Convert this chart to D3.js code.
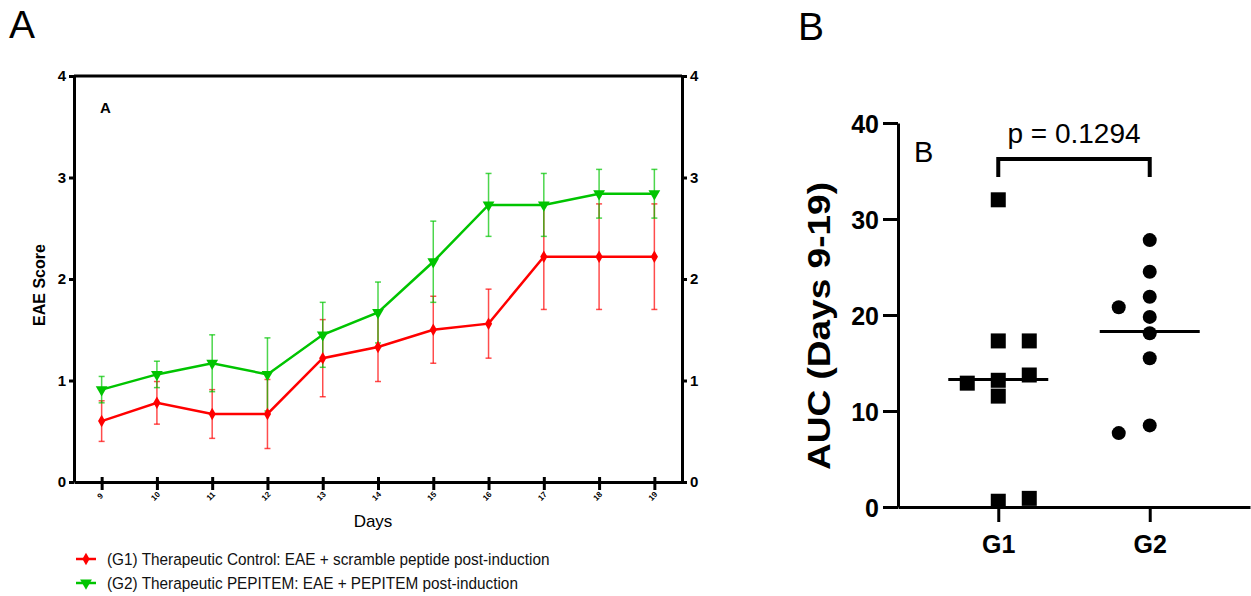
<!DOCTYPE html>
<html>
<head>
<meta charset="utf-8">
<script src="https://cdn.jsdelivr.net/npm/d3@7"></script>
<style>
  body { margin: 0; background: #fff; }
  svg { font-family: "Liberation Sans", Arial, sans-serif; }
</style>
</head>
<body>
<div id="chart"></div>
<script>
// Panel A data: mean EAE score +/- SEM per day
var days = [9, 10, 11, 12, 13, 14, 15, 16, 17, 18, 19];
var g1Mean = [0.60, 0.78, 0.67, 0.67, 1.22, 1.33, 1.50, 1.56, 2.22, 2.22, 2.22];
var g1Sem  = [0.20, 0.21, 0.24, 0.34, 0.38, 0.34, 0.33, 0.34, 0.52, 0.52, 0.52];
var g2Mean = [0.91, 1.06, 1.17, 1.06, 1.45, 1.67, 2.17, 2.73, 2.73, 2.84, 2.84];
var g2Sem  = [0.13, 0.13, 0.28, 0.36, 0.32, 0.30, 0.40, 0.31, 0.31, 0.24, 0.24];
var scoreTicks = [0, 1, 2, 3, 4];
var legendLabels = [
  "(G1) Therapeutic Control: EAE + scramble peptide post-induction",
  "(G2) Therapeutic PEPITEM: EAE + PEPITEM post-induction"
];

// Panel B data: AUC (days 9-19) per animal
var groups = ["G1", "G2"];
var g1Auc = [32.0, 17.3, 17.3, 13.2, 13.75, 12.9, 11.55, 0.6, 0.9];
var g2Auc = [27.8, 24.5, 21.9, 19.8, 18.1, 15.5, 20.8, 8.5, 7.7];
var aucTicks = [0, 10, 20, 30, 40];
var pText = "p = 0.1294";

var red = "#ff0000", green = "#00c400";

var svg = d3.select("#chart")
    .append("svg")
    .attr("width", 1251)
    .attr("height", 596);

// big panel letters
svg.append("text").attr("x", 9).attr("y", 38).attr("font-size", 39).text("A");
svg.append("text").attr("x", 798).attr("y", 40).attr("font-size", 39).text("B");

// ---------------- Panel A ----------------
var x = d3.scaleLinear().domain([8.5, 19.5]).range([74, 682]);
var y = d3.scaleLinear().domain([0, 4]).range([482, 76]);

var a = svg.append("g");

// top frame line
a.append("line")
    .attr("x1", x.range()[0]).attr("x2", x.range()[1])
    .attr("y1", y(4)).attr("y2", y(4))
    .attr("stroke", "#000").attr("stroke-width", 3);

var leftAxis = a.append("g")
    .attr("transform", "translate(" + x.range()[0] + ",0)")
    .call(d3.axisLeft(y).tickValues(scoreTicks).tickSize(5).tickSizeOuter(0).tickFormat(d3.format("d")));
var rightAxis = a.append("g")
    .attr("transform", "translate(" + x.range()[1] + ",0)")
    .call(d3.axisRight(y).tickValues(scoreTicks).tickSize(5).tickSizeOuter(0).tickFormat(d3.format("d")));
var bottomAxis = a.append("g")
    .attr("transform", "translate(0," + y(0) + ")")
    .call(d3.axisBottom(x).tickValues(days).tickSize(8).tickSizeOuter(0).tickFormat(d3.format("d")));

[leftAxis, rightAxis, bottomAxis].forEach(function (ax) {
  ax.selectAll("path, line").attr("stroke", "#000").attr("stroke-width", 3);
  ax.selectAll("text").attr("fill", "#000").attr("font-family", "Liberation Sans, Arial, sans-serif");
});
leftAxis.selectAll("text").attr("font-size", 15).attr("font-weight", "bold");
rightAxis.selectAll("text").attr("font-size", 15).attr("font-weight", "bold");
bottomAxis.selectAll(".tick line").attr("y1", -5);
bottomAxis.selectAll("text")
    .attr("font-size", 8).attr("font-weight", "bold")
    .attr("text-anchor", "middle")
    .attr("dy", 0).attr("y", 0)
    .attr("transform", "translate(0,16) rotate(-45)");

// axis titles
a.append("text")
    .attr("transform", "translate(45,285) rotate(-90)")
    .attr("text-anchor", "middle")
    .attr("font-size", 16).attr("font-weight", "bold")
    .text("EAE Score");
a.append("text")
    .attr("x", 373).attr("y", 527)
    .attr("text-anchor", "middle")
    .attr("font-size", 17)
    .text("Days");
a.append("text")
    .attr("x", 100).attr("y", 113)
    .attr("font-size", 15).attr("font-weight", "bold")
    .text("A");

var series = [
  { name: "G1", mean: g1Mean, sem: g1Sem, color: red, symbol: d3.symbolDiamond, size: 45, rot: 0 },
  { name: "G2", mean: g2Mean, sem: g2Sem, color: green, symbol: d3.symbolTriangle, size: 60, rot: 180 }
];

series.forEach(function (s) {
  var pts = days.map(function (d, i) { return { day: d, m: s.mean[i], e: s.sem[i] }; });
  var eg = a.append("g").attr("stroke", s.color).attr("stroke-width", 1.5).attr("stroke-opacity", 0.7);
  pts.forEach(function (p) {
    eg.append("line")
        .attr("x1", x(p.day)).attr("x2", x(p.day))
        .attr("y1", y(p.m - p.e)).attr("y2", y(p.m + p.e));
    [p.m - p.e, p.m + p.e].forEach(function (v) {
      eg.append("line")
          .attr("x1", x(p.day) - 3).attr("x2", x(p.day) + 3)
          .attr("y1", y(v)).attr("y2", y(v));
    });
  });
});

series.forEach(function (s) {
  var pts = days.map(function (d, i) { return { day: d, m: s.mean[i] }; });
  a.append("path")
      .datum(pts)
      .attr("fill", "none")
      .attr("stroke", s.color)
      .attr("stroke-width", 2.5)
      .attr("d", d3.line().x(function (d) { return x(d.day); }).y(function (d) { return y(d.m); }));
  a.selectAll(".m" + s.name)
      .data(pts)
      .enter().append("path")
      .attr("d", d3.symbol().type(s.symbol).size(s.size))
      .attr("transform", function (d) {
        return "translate(" + x(d.day) + "," + y(d.m) + ") rotate(" + s.rot + ")";
      })
      .attr("fill", s.color);
});

// legend
series.forEach(function (s, i) {
  var ly = 559 + i * 24;
  a.append("line")
      .attr("x1", 76).attr("x2", 96).attr("y1", ly).attr("y2", ly)
      .attr("stroke", s.color).attr("stroke-width", 2.5);
  a.append("path")
      .attr("d", d3.symbol().type(s.symbol).size(s.size))
      .attr("transform", "translate(86," + ly + ") rotate(" + s.rot + ")")
      .attr("fill", s.color);
  a.append("text")
      .attr("x", 107).attr("y", ly + 6)
      .attr("font-size", 16.5)
      .attr("transform", "translate(107,0) scale(0.93,1) translate(-107,0)")
      .attr("fill", "#111")
      .text(legendLabels[i]);
});

// ---------------- Panel B ----------------
var yb = d3.scaleLinear().domain([0, 40]).range([507, 123]);
var xb = d3.scalePoint().domain(groups).range([898, 1250]).padding(0.662);
var b = svg.append("g");

var byAxis = b.append("g")
    .attr("transform", "translate(898,0)")
    .call(d3.axisLeft(yb).tickValues(aucTicks).tickSize(15).tickSizeOuter(0));
var bxAxis = b.append("g")
    .attr("transform", "translate(0," + yb(0) + ")")
    .call(d3.axisBottom(xb).tickSize(15).tickSizeOuter(0));
[byAxis, bxAxis].forEach(function (ax) {
  ax.selectAll("path, line").attr("stroke", "#000").attr("stroke-width", 3);
  ax.selectAll("text")
      .attr("fill", "#000")
      .attr("font-family", "Liberation Sans, Arial, sans-serif")
      .attr("font-weight", "bold")
      .attr("font-size", 25);
});
byAxis.selectAll("text").attr("x", -19).attr("dy", "0.36em");
bxAxis.selectAll("text").attr("y", 28);

b.append("text")
    .attr("transform", "translate(830,326) rotate(-90)")
    .attr("text-anchor", "middle")
    .attr("font-size", 31).attr("font-weight", "bold")
    .attr("textLength", 288).attr("lengthAdjust", "spacingAndGlyphs")
    .text("AUC (Days 9-19)");
b.append("text")
    .attr("x", 914).attr("y", 162)
    .attr("font-size", 29)
    .text("B");

// significance bracket
var br = 159, legs = 177;
b.append("path")
    .attr("d", "M" + xb("G1") + "," + legs + "V" + br + "H" + xb("G2") + "V" + legs)
    .attr("fill", "none").attr("stroke", "#000").attr("stroke-width", 4);
b.append("text")
    .attr("x", (xb("G1") + xb("G2")) / 2).attr("y", 143)
    .attr("text-anchor", "middle")
    .attr("font-size", 28)
    .text(pText);

// place points in lanes so markers don't overlap
function lanes(vals, side) {
  var placed = [], order = [0, side, -side, 2 * side, -2 * side];
  return vals.map(function (v) {
    var lane = order.find(function (l) {
      return !placed.some(function (p) {
        return p.lane === l && Math.abs(yb(p.v) - yb(v)) < 15;
      });
    });
    placed.push({ v: v, lane: lane });
    return { v: v, lane: lane };
  });
}

var laneW = 31;
[{ g: "G1", vals: g1Auc, shape: "square", side: 1 },
 { g: "G2", vals: g2Auc, shape: "circle", side: -1 }].forEach(function (grp) {
  var pts = lanes(grp.vals, grp.side);
  pts.forEach(function (p) {
    var cx = xb(grp.g) + p.lane * laneW;
    if (grp.shape === "square") {
      b.append("rect")
          .attr("x", cx - 7.5).attr("y", yb(p.v) - 7.5)
          .attr("width", 15).attr("height", 15)
          .attr("fill", "#000");
    } else {
      b.append("circle")
          .attr("cx", cx).attr("cy", yb(p.v)).attr("r", 7)
          .attr("fill", "#000");
    }
  });
  var m = d3.mean(grp.vals);
  b.append("line")
      .attr("x1", xb(grp.g) - 50).attr("x2", xb(grp.g) + 50)
      .attr("y1", yb(m)).attr("y2", yb(m))
      .attr("stroke", "#000").attr("stroke-width", 3);
});
</script>
</body>
</html>
